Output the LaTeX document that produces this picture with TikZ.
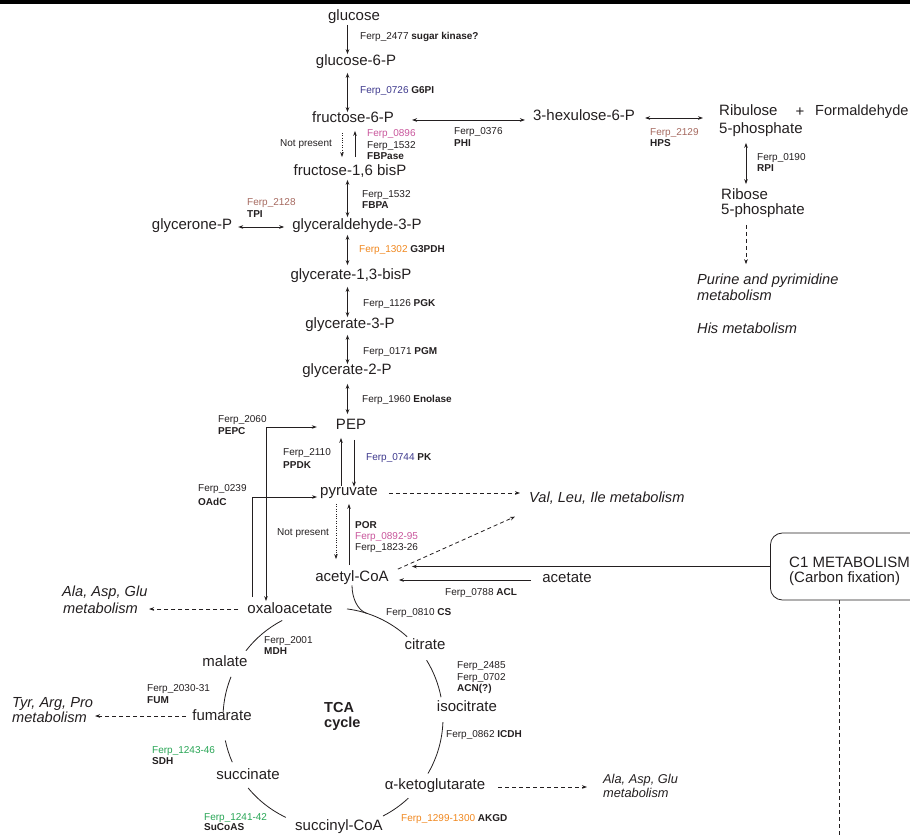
\documentclass[tikz,border=0pt]{standalone}
\usepackage{fontspec}
\setmainfont{Liberation Sans}
\usetikzlibrary{arrows.meta,calc}
\definecolor{ink}{RGB}{35,31,32}
\definecolor{navy}{RGB}{60,55,140}
\definecolor{pinkc}{RGB}{200,85,155}
\definecolor{brownc}{RGB}{165,105,95}
\definecolor{orangec}{RGB}{240,135,30}
\definecolor{greenc}{RGB}{40,165,85}
\newcommand\tcaarc[2]{\draw[conn] (tcac) ++(#1:110) arc[start angle=#1, end angle=#2, radius=110];}
\begin{document}
\begin{tikzpicture}[x=1pt,y=-1pt,
  met/.style={font=\fontsize{15}{18}\selectfont, text height=0.72em, text depth=0.2em, inner sep=1.5pt, text=ink},
  lab/.style={font=\fontsize{10}{11}\selectfont, anchor=base west, inner sep=0pt, text=ink},
  ita/.style={font=\fontsize{14.6}{17}\selectfont\itshape, anchor=base west, inner sep=0pt, text=ink},
  itas/.style={font=\fontsize{12.8}{15}\selectfont\itshape, anchor=base west, inner sep=0pt, text=ink},
  conn/.style={draw=ink, line width=0.8pt},
  one/.style={conn, -{Stealth[length=5pt,width=3.6pt]}},
  two/.style={conn, {Stealth[length=5pt,width=3.6pt]}-{Stealth[length=5pt,width=3.6pt]}},
  dsh/.style={one, dash pattern=on 4pt off 3pt},
  dotl/.style={one, dash pattern=on 0.8pt off 1.6pt},
]
\useasboundingbox (0,0) rectangle (910,837);
\clip (0,0) rectangle (910,837);
\fill[black] (0,0) rectangle (910,4);

% ---------- metabolites ----------
\node[met] (glucose) at (354,18) {glucose};
\node[met] (g6p) at (356,63) {glucose-6-P};
\node[met] (f6p) at (353,120) {fructose-6-P};
\node[met] (f16bp) at (350,173) {fructose-1,6 bisP};
\node[met] (gap) at (357,227) {glyceraldehyde-3-P};
\node[met] (glyc) at (192,227) {glycerone-P};
\node[met] (g13bp) at (351,277) {glycerate-1,3-bisP};
\node[met] (g3p) at (350,326) {glycerate-3-P};
\node[met] (g2p) at (347,372) {glycerate-2-P};
\node[met] (pep) at (351,427) {PEP};
\node[met] (pyr) at (349,493) {pyruvate};
\node[met] (acoa) at (352,579) {acetyl-CoA};
\node[met] (acetate) at (567,580) {acetate};
\node[met] (oaa) at (290,611) {oxaloacetate};
\node[met] (malate) at (225,664) {malate};
\node[met] (fum) at (222,718) {fumarate};
\node[met] (succ) at (248,777) {succinate};
\node[met] (succoa) at (339,828) {succinyl-CoA};
\node[met] (akg) at (435,787) {α-ketoglutarate};
\node[met] (isocit) at (467,709) {isocitrate};
\node[met] (citrate) at (425,647) {citrate};
\node[met] (hex) at (584,118) {3-hexulose-6-P};
\node[met, anchor=west] (rib1) at (717.5,113) {Ribulose};
\node[met, anchor=west] (rib2) at (717.5,131) {5-phosphate};
\node[met] (plus) at (800,114) {+};
\node[met, anchor=west, font=\fontsize{14.6}{18}\selectfont] (form) at (813.5,113) {Formaldehyde};
\node[met, anchor=west] (ribo1) at (719.5,197) {Ribose};
\node[met, anchor=west] (ribo2) at (719.5,212) {5-phosphate};

% ---------- italic pathway names ----------
\node[ita] (pur1) at (697,284) {Purine and pyrimidine};
\node[ita] (pur2) at (697,300) {metabolism};
\node[ita] (his) at (697,333) {His metabolism};
\node[ita] (val) at (529,502) {Val, Leu, Ile metabolism};
\node[ita] (alaL1) at (62,596) {Ala, Asp, Glu};
\node[ita] (alaL2) at (63,613) {metabolism};
\node[ita] (tyr1) at (12,707) {Tyr, Arg, Pro};
\node[ita] (tyr2) at (12,722) {metabolism};
\node[itas] (alaR1) at (603,783) {Ala, Asp, Glu};
\node[itas] (alaR2) at (603,797) {metabolism};

\node[font=\fontsize{14.5}{17}\selectfont\bfseries, anchor=base west, inner sep=0pt, text=ink] (tca1) at (324,712) {TCA};
\node[font=\fontsize{14.5}{17}\selectfont\bfseries, anchor=base west, inner sep=0pt, text=ink] (tca2) at (324,727) {cycle};

% ---------- C1 box ----------
\node[draw=ink, line width=0.8pt, rounded corners=12pt, minimum width=170pt, minimum height=67pt, anchor=west, inner sep=0pt] (c1) at (770,566.5) {};
\node[font=\fontsize{15}{18}\selectfont, anchor=base west, inner sep=0pt, text=ink] (c1a) at (789,567) {C1 METABOLISM};
\node[font=\fontsize{15}{18}\selectfont, anchor=base west, inner sep=0pt, text=ink] (c1b) at (789,582) {(Carbon fixation)};

% ---------- enzyme labels ----------
\node[lab] (l2477) at (360,40) {Ferp\_2477 \textbf{sugar kinase?}};
\node[lab] (l0726) at (360,94) {\textcolor{navy}{Ferp\_0726} \textbf{G6PI}};
\node[lab] (l0376a) at (454,135) {Ferp\_0376};
\node[lab] (l0376b) at (454,147) {\textbf{PHI}};
\node[lab] (np1) at (280,147) {Not present};
\node[lab, text=pinkc] (l0896a) at (367,137) {Ferp\_0896};
\node[lab] (l0896b) at (367,149) {Ferp\_1532};
\node[lab] (l0896c) at (367,160) {\textbf{FBPase}};
\node[lab] (l1532a) at (362,197) {Ferp\_1532};
\node[lab] (l1532b) at (362,209) {\textbf{FBPA}};
\node[lab, text=brownc] (l2128a) at (247,206) {Ferp\_2128};
\node[lab] (l2128b) at (247,218) {\textbf{TPI}};
\node[lab] (l1302) at (359,252) {\textcolor{orangec}{Ferp\_1302} \textbf{G3PDH}};
\node[lab] (l1126) at (363,306) {Ferp\_1126 \textbf{PGK}};
\node[lab] (l0171) at (363,354) {Ferp\_0171 \textbf{PGM}};
\node[lab] (l1960) at (362,402) {Ferp\_1960 \textbf{Enolase}};
\node[lab] (l2060a) at (218,422) {Ferp\_2060};
\node[lab] (l2060b) at (218,434) {\textbf{PEPC}};
\node[lab] (l2110a) at (283,455) {Ferp\_2110};
\node[lab] (l2110b) at (283,468) {\textbf{PPDK}};
\node[lab] (l0744) at (366,460) {\textcolor{navy}{Ferp\_0744} \textbf{PK}};
\node[lab] (l0239a) at (198,491) {Ferp\_0239};
\node[lab] (l0239b) at (198,505) {\textbf{OAdC}};
\node[lab] (np2) at (277,535) {Not present};
\node[lab] (lpor1) at (355,528) {\textbf{POR}};
\node[lab, text=pinkc] (lpor2) at (355,539) {Ferp\_0892-95};
\node[lab] (lpor3) at (355,550) {Ferp\_1823-26};
\node[lab] (l0788) at (445,595) {Ferp\_0788 \textbf{ACL}};
\node[lab] (l0810) at (386,615) {Ferp\_0810 \textbf{CS}};
\node[lab] (l2001a) at (264,643) {Ferp\_2001};
\node[lab] (l2001b) at (264,654) {\textbf{MDH}};
\node[lab] (l2030a) at (147,691) {Ferp\_2030-31};
\node[lab] (l2030b) at (147,703) {\textbf{FUM}};
\node[lab, text=greenc] (l1243a) at (152,753) {Ferp\_1243-46};
\node[lab] (l1243b) at (152,764) {\textbf{SDH}};
\node[lab, text=greenc] (l1241a) at (204,820) {Ferp\_1241-42};
\node[lab] (l1241b) at (204,830) {\textbf{SuCoAS}};
\node[lab] (l1299) at (401,821) {\textcolor{orangec}{Ferp\_1299-1300} \textbf{AKGD}};
\node[lab] (l0862) at (446,737) {Ferp\_0862 \textbf{ICDH}};
\node[lab] (l2485a) at (457,668) {Ferp\_2485};
\node[lab] (l2485b) at (457,680) {Ferp\_0702};
\node[lab] (l2485c) at (457,691) {\textbf{ACN(?)}};
\node[lab, text=brownc] (l2129a) at (650,136) {Ferp\_2129};
\node[lab] (l2129b) at (650,147) {\textbf{HPS}};
\node[lab] (l0190a) at (757,161) {Ferp\_0190};
\node[lab] (l0190b) at (757,172) {\textbf{RPI}};

% ---------- axes ----------
\coordinate (xA) at (347.5,0);
\coordinate (xFd) at (342,0);
\coordinate (xFu) at (355,0);
\coordinate (xPP) at (341,0);
\coordinate (xPK) at (354,0);
\coordinate (xNP) at (336,0);
\coordinate (xPOR) at (349,0);
\coordinate (xR) at (746,0);
\coordinate (xPEPC) at (266,0);
\coordinate (xOAdC) at (252,0);
\coordinate (xAc) at (352,0);
\coordinate (xC1) at (839,0);
\coordinate (c1end) at (839,845);
\coordinate (tcac) at (333,718);

% ---------- glycolysis arrows ----------
\draw[one, shorten <=0.6pt, shorten >=2.6pt] (glucose.south -| xA) -- (g6p.north -| xA);
\draw[two, shorten <=3.6pt, shorten >=1.6pt] (g6p.south -| xA) -- (f6p.north -| xA);
\draw[dotl, shorten <=6.6pt, shorten >=9.6pt] (f6p.south -| xFd) -- (f16bp.north -| xFd);
\draw[one, shorten <=9.6pt, shorten >=4.6pt] (f16bp.north -| xFu) -- (f6p.south -| xFu);
\draw[two, shorten <=0.6pt, shorten >=3.6pt] (f16bp.south -| xA) -- (gap.north -| xA);
\draw[two, shorten <=1.6pt, shorten >=5.6pt] (gap.south -| xA) -- (g13bp.north -| xA);
\draw[two, shorten <=3.6pt, shorten >=2.6pt] (g13bp.south -| xA) -- (g3p.north -| xA);
\draw[two, shorten <=2.6pt, shorten >=1.6pt] (g3p.south -| xA) -- (g2p.north -| xA);
\draw[two, shorten <=5.6pt, shorten >=6.6pt] (g2p.south -| xA) -- (pep.north -| xA);
\draw[one, shorten <=0.4pt, shorten >=4.6pt] (pyr.north -| xPP) -- (pep.south -| xPP);
\draw[one, shorten <=6.6pt, shorten >=0pt] (pep.south -| xPK) -- (pyr.north -| xPK);
\draw[dotl, shorten <=4.6pt, shorten >=13.6pt] (pyr.south -| xNP) -- (acoa.north -| xNP);
\draw[one, shorten <=7.6pt, shorten >=4.6pt] (acoa.north -| xPOR) -- (pyr.south -| xPOR);

% horizontal
\draw[two, shorten <=16.5pt, shorten >=6.5pt] (f6p.east) -- (f6p.east -| hex.west);
\draw[two, shorten <=8.5pt, shorten >=14.5pt] (hex.east) -- (hex.east -| rib1.west);
\draw[two, shorten <=4.5pt, shorten >=6.5pt] (glyc.east) -- (gap.west);
\draw[one, shorten <=9.5pt, shorten >=8.5pt] (acetate.west) -- (acoa.east |- acetate.west);
\draw[one, shorten >=21.5pt] (c1.west) -- (acoa.east |- c1.west);

% PEPC and OAdC
\draw[two, shorten <=17.5pt, shorten >=3.6pt] (pep.west) -| (oaa.north -| xPEPC);
\draw[one, shorten <=7.6pt, shorten >=1.5pt] (oaa.north -| xOAdC) |- ($(pyr.west)+(0,4)$);

% right side
\draw[two, shorten <=5.6pt, shorten >=6.6pt] (rib2.south -| xR) -- (ribo1.north -| xR);
\draw[dsh, shorten <=6.6pt, shorten >=9pt] (ribo2.south -| xR) -- (pur1.north -| xR);
\draw[conn, line width=0.6pt, dash pattern=on 4pt off 3pt] (c1.south -| xC1) -- (c1end);

% dashed outflows
\draw[dsh, shorten <=9.5pt, shorten >=9pt] (pyr.east) -- (pyr.east -| val.west);
\draw[dsh] ($(acoa.north east)+(7.5,-3.6)$) -- ($(val.west)+(-14,19)$);
\draw[dsh, shorten <=7.5pt, shorten >=11pt] ($(oaa.west)+(0,-2)$) -- ($(alaL2.east |- oaa.west)+(0,-2)$);
\draw[dsh, shorten <=4.5pt, shorten >=8pt] ($(fum.west)+(0,-2)$) -- ($(tyr2.east |- fum.west)+(0,-2)$);
\draw[dsh, shorten <=11.5pt, shorten >=16pt] (akg.east) -- (akg.east -| alaR1.west);

% ---------- TCA cycle arcs ----------
\tcaarc{-82.7}{-47.6}
\tcaarc{-31.7}{-10.9}
\tcaarc{2.1}{30.3}
\tcaarc{46.8}{63}
\tcaarc{115.4}{140.5}
\tcaarc{156.3}{168.2}
\tcaarc{183.1}{202}
\tcaarc{217.7}{242.5}
\coordinate (junc) at ($(tcac)+(-72.2:110)$);
\draw[conn] (acoa.south -| xAc) .. controls ($(acoa.south -| xAc)+(0,13)$) and ($(junc)+(-9,-3)$) .. (junc);
\end{tikzpicture}
\end{document}
